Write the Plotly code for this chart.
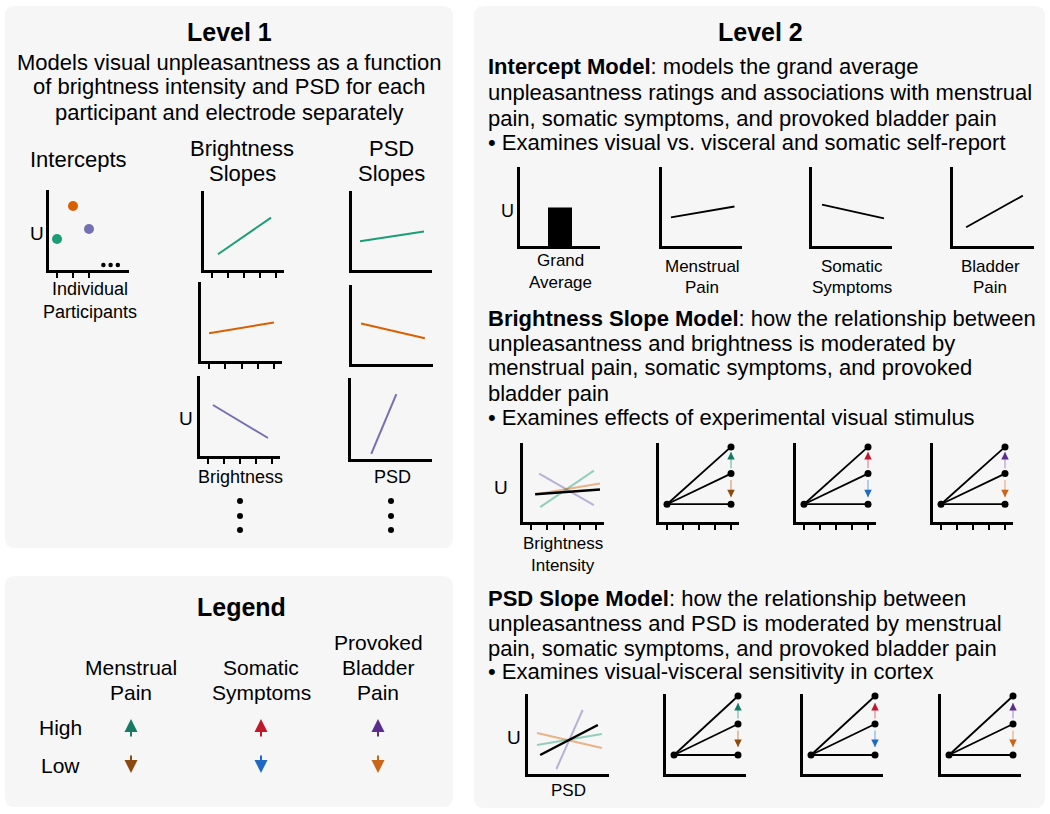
import plotly.graph_objects as go

W, H = 1050, 814
FONT = "Liberation Sans"

# ---------------- data ----------------
# Level 1: intercepts (one per participant)
participants = [1, 2, 3]
intercept_u = [3.1, 6.4, 4.1]
participant_colors = ["#1b9e77", "#d95f02", "#7570b3"]
ellipsis_x = [3.9, 4.35, 4.8]
ellipsis_u = [0.5, 0.5, 0.5]

# Level 1: brightness slopes and PSD slopes (per participant)
bright_x = [[1.375, 4.69], [1.0, 5.0], [1.31, 4.75]]
bright_u = [[1.6, 5.3], [2.8, 3.9], [5.1, 1.8]]
psd_x = [[1.0, 5.0], [1.06, 5.0], [1.75, 3.3]]
psd_u = [[2.9, 3.9], [4.1, 2.6], [0.5, 6.4]]

# Level 2: intercept model
grand_x = [3.0]
grand_u = [3.9]
assoc_labels = ["Menstrual<br>Pain", "Somatic<br>Symptoms", "Bladder<br>Pain"]
assoc_x = [[1.06, 5.03], [1.125, 5.0], [1.31, 4.81]]
assoc_u = [[2.9, 4.0], [4.2, 2.8], [1.9, 5.1]]

# Level 2: brightness slope model, participant lines + group line
bs_lines_x = [[1.5, 4.875], [1.56, 4.875], [1.31, 5.25]]
bs_lines_u = [[4.9, 1.7], [1.5, 5.2], [2.8, 3.9]]
bs_group_x = [1.25, 5.25]
bs_group_u = [2.8, 3.3]
# Level 2: PSD slope model
ps_lines_x = [[2.25, 3.875], [1.06, 5.06], [1.06, 5.06]]
ps_lines_u = [[0.5, 6.4], [4.1, 2.6], [2.9, 4.0]]
ps_group_x = [1.25, 4.81]
ps_group_u = [1.9, 4.9]
light_colors = ["rgba(117,112,179,0.5)", "rgba(27,158,119,0.45)", "rgba(217,95,2,0.45)"]
light_order_ps = ["rgba(117,112,179,0.5)", "rgba(217,95,2,0.45)", "rgba(27,158,119,0.45)"]

# Moderation fans: start x, end x, origin U, end U (high, average, low)
fan_x = [1, 5]
bs_fan_origin = 1.8
bs_fan_ends = [7.6, 4.9, 1.8]
ps_fan_origin = 1.9
ps_fan_ends = [7.8, 5.0, 1.9]
bs_arrow_high = [5.3, 7.1]
bs_arrow_low = [4.4, 2.5]
ps_arrow_high = [5.4, 7.1]
ps_arrow_low = [4.5, 2.7]

moderators = ["Menstrual<br>Pain", "Somatic<br>Symptoms", "Provoked<br>Bladder<br>Pain"]
high_colors = ["#167a64", "#c0182a", "#5b2d8e"]
low_colors = ["#8c4a0f", "#1f68c4", "#c8651b"]
high_light = ["#7cc2b2", "#e8909a", "#b7a2d8"]
low_light = ["#d4a77c", "#8fb6e6", "#ebb283"]

# ---------------- figure ----------------
fig = go.Figure()
layout = {}
annotations = []
shapes = []
n_axes = [0]


def add_chart(x0, x1, y0, y1, ticks=None):
    n_axes[0] += 1
    n = n_axes[0]
    sfx = "" if n == 1 else str(n)
    common = dict(showline=True, linecolor="black", linewidth=2.5, showgrid=False,
                  zeroline=False, showticklabels=False, fixedrange=True)
    xa = dict(domain=[x0 / W, x1 / W], range=[0.5, 5.5], anchor="y" + sfx, **common)
    if ticks:
        xa.update(ticks="outside", tickvals=ticks, ticklen=5, tickwidth=2, tickcolor="black")
    else:
        xa.update(ticks="")
    ya = dict(domain=[1 - y1 / H, 1 - y0 / H], range=[0, 8], anchor="x" + sfx, ticks="", **common)
    layout["xaxis" + sfx] = xa
    layout["yaxis" + sfx] = ya
    return "x" + sfx, "y" + sfx


def line(xa, ya, xs, ys, color, width=2):
    fig.add_trace(go.Scatter(x=xs, y=ys, mode="lines", line=dict(color=color, width=width),
                             xaxis=xa, yaxis=ya, showlegend=False, hoverinfo="skip",
                             cliponaxis=False))


def txt(x, y, s, size=22, anchor="center"):
    annotations.append(dict(x=x / W, y=1 - y / H, xref="paper", yref="paper", text=s,
                            showarrow=False, xanchor=anchor, yanchor="middle",
                            font=dict(size=size, family=FONT, color="black")))


def dot(x, y, r=3):
    shapes.append(dict(type="circle", xref="paper", yref="paper",
                       x0=(x - r) / W, x1=(x + r) / W, y0=1 - (y + r) / H, y1=1 - (y - r) / H,
                       fillcolor="black", line=dict(width=0)))


def rrect(x0, y0, x1, y1, r=10):
    X = lambda v: v / W
    Y = lambda v: 1 - v / H
    p = (f"M {X(x0 + r)},{Y(y0)} L {X(x1 - r)},{Y(y0)} Q {X(x1)},{Y(y0)} {X(x1)},{Y(y0 + r)} "
         f"L {X(x1)},{Y(y1 - r)} Q {X(x1)},{Y(y1)} {X(x1 - r)},{Y(y1)} "
         f"L {X(x0 + r)},{Y(y1)} Q {X(x0)},{Y(y1)} {X(x0)},{Y(y1 - r)} "
         f"L {X(x0)},{Y(y0 + r)} Q {X(x0)},{Y(y0)} {X(x0 + r)},{Y(y0)} Z")
    shapes.append(dict(type="path", path=p, xref="paper", yref="paper",
                       fillcolor="#f6f6f6", line=dict(width=0), layer="below"))


# panels
rrect(5, 6, 453, 548)
rrect(5, 576, 453, 807)
rrect(474, 6, 1045, 808)

# ---- Level 1 ----
txt(229, 32, "<b>Level 1</b>", 25)
txt(229, 62, "Models visual unpleasantness as a function", 22)
txt(229, 87, "of brightness intensity and PSD for each", 22)
txt(229, 112, "participant and electrode separately", 22)

txt(78, 160, "Intercepts", 22)
txt(242, 148, "Brightness", 22)
txt(242, 173, "Slopes", 22)
txt(391, 148, "PSD", 22)
txt(391, 173, "Slopes", 22)

xa, ya = add_chart(49, 129, 190, 270, ticks=[1, 2, 3])
fig.add_trace(go.Scatter(x=participants, y=intercept_u, mode="markers",
                         marker=dict(color=participant_colors, size=10), xaxis=xa, yaxis=ya,
                         showlegend=False, hoverinfo="skip", cliponaxis=False))
fig.add_trace(go.Scatter(x=ellipsis_x, y=ellipsis_u, mode="markers",
                         marker=dict(color="black", size=4.5), xaxis=xa, yaxis=ya,
                         showlegend=False, hoverinfo="skip", cliponaxis=False))
txt(37, 233, "U", 19)
txt(90, 289, "Individual", 18)
txt(90, 312, "Participants", 18)

bright_boxes = [(204, 284, 191, 270), (201, 282, 282, 361), (200, 280, 376, 456)]
psd_boxes = [(352, 432, 191, 270), (352, 433, 285, 364), (351, 432, 378, 459)]
for i in range(3):
    xa, ya = add_chart(*bright_boxes[i], ticks=[1, 2, 3, 4, 5])
    line(xa, ya, bright_x[i], bright_u[i], participant_colors[i], 2)
for i in range(3):
    xa, ya = add_chart(*psd_boxes[i])
    line(xa, ya, psd_x[i], psd_u[i], participant_colors[i], 2)
txt(186, 418, "U", 19)
txt(240, 477, "Brightness", 18)
txt(392, 477, "PSD", 18)
for yy in (501, 516, 530):
    dot(240, yy)
    dot(391, yy)

# ---- Legend ----
txt(241, 607, "<b>Legend</b>", 25)
leg_x = [131, 261, 378]
for i, lab in enumerate(moderators):
    parts = lab.split("<br>")
    base = 692 - 25 * (len(parts) - 1)
    for k, p in enumerate(parts):
        txt(leg_x[i], base + 25 * k, p, 21)
    annotations.append(dict(x=leg_x[i] / W, y=1 - 719 / H, xref="paper", yref="paper",
                            ax=0, ay=19, text="", showarrow=True, arrowhead=2, arrowsize=1.3,
                            arrowwidth=2, arrowcolor=high_colors[i]))
    annotations.append(dict(x=leg_x[i] / W, y=1 - 773 / H, xref="paper", yref="paper",
                            ax=0, ay=-19, text="", showarrow=True, arrowhead=2, arrowsize=1.3,
                            arrowwidth=2, arrowcolor=low_colors[i]))
txt(60, 727, "High", 21)
txt(60, 765, "Low", 21)

# ---- Level 2 ----
txt(760, 32, "<b>Level 2</b>", 25)
L = 486
FS = 22
txt(L, 67, "<b>Intercept Model</b>: models the grand average", FS, "left")
txt(L, 93, "unpleasantness ratings and associations with menstrual", FS, "left")
txt(L, 118, "pain, somatic symptoms, and provoked bladder pain", FS, "left")
txt(L, 142, "• Examines visual vs. visceral and somatic self-report", FS, "left")

xa, ya = add_chart(520, 600, 167, 246)
fig.add_trace(go.Bar(x=grand_x, y=grand_u, width=[1.5], marker=dict(color="black", line=dict(width=0)),
                     xaxis=xa, yaxis=ya, showlegend=False, hoverinfo="skip"))
txt(507, 211, "U", 18)
txt(560, 260, "Grand", 17)
txt(560, 283, "Average", 17)
assoc_boxes = [(662, 742), (812, 892), (953, 1034)]
assoc_cx = [702, 852, 990]
for i in range(3):
    xa, ya = add_chart(assoc_boxes[i][0], assoc_boxes[i][1], 167, 246)
    line(xa, ya, assoc_x[i], assoc_u[i], "black", 1.8)
    a, b = assoc_labels[i].split("<br>")
    txt(assoc_cx[i], 266, a, 17)
    txt(assoc_cx[i], 287, b, 17)

txt(L, 318, "<b>Brightness Slope Model</b>: how the relationship between", FS, "left")
txt(L, 343, "unpleasantness and brightness is moderated by", FS, "left")
txt(L, 368, "menstrual pain, somatic symptoms, and provoked", FS, "left")
txt(L, 393, "bladder pain", FS, "left")
txt(L, 417, "• Examines effects of experimental visual stimulus", FS, "left")

txt(L, 598, "<b>PSD Slope Model</b>: how the relationship between", FS, "left")
txt(L, 623, "unpleasantness and PSD is moderated by menstrual", FS, "left")
txt(L, 648, "pain, somatic symptoms, and provoked bladder pain", FS, "left")
txt(L, 671, "• Examines visual-visceral sensitivity in cortex", FS, "left")


def fan_row(boxes, y0, y1, ticks, origin, ends, ah, al):
    for i, (x0, x1) in enumerate(boxes):
        xa, ya = add_chart(x0, x1, y0, y1, ticks=ticks)
        for e in ends:
            line(xa, ya, fan_x, [origin, e], "black", 1.8)
        fig.add_trace(go.Scatter(x=[fan_x[0]] + [fan_x[1]] * 3, y=[origin] + ends, mode="markers",
                                 marker=dict(color="black", size=7), xaxis=xa, yaxis=ya,
                                 showlegend=False, hoverinfo="skip", cliponaxis=False))
        for (t, hd), col, lcol in ((ah, high_colors[i], high_light[i]),
                                   (al, low_colors[i], low_light[i])):
            # light shaft
            annotations.append(dict(x=fan_x[1], y=hd, ax=fan_x[1], ay=t, xref=xa, yref=ya,
                                    axref=xa, ayref=ya, text="", showarrow=True, arrowhead=0,
                                    arrowwidth=1.3, arrowcolor=lcol))
            # dark head
            step = 0.6 if hd > t else -0.6
            annotations.append(dict(x=fan_x[1], y=hd, ax=fan_x[1], ay=hd - step, xref=xa, yref=ya,
                                    axref=xa, ayref=ya, text="", showarrow=True, arrowhead=2,
                                    arrowsize=1.5, arrowwidth=1, arrowcolor=col))


# brightness row
xa, ya = add_chart(523, 604, 443, 522, ticks=[1, 2, 3, 4, 5])
for i in range(3):
    line(xa, ya, bs_lines_x[i], bs_lines_u[i], light_colors[i], 2)
line(xa, ya, bs_group_x, bs_group_u, "black", 2.5)
txt(501, 487, "U", 19)
txt(563, 543, "Brightness", 17)
txt(563, 565, "Intensity", 17)
fan_row([(659, 739), (796, 876), (933, 1013)], 443, 522, [1, 2, 3, 4, 5],
        bs_fan_origin, bs_fan_ends, bs_arrow_high, bs_arrow_low)

# PSD row
xa, ya = add_chart(528, 609, 694, 774)
for i in range(3):
    line(xa, ya, ps_lines_x[i], ps_lines_u[i], light_order_ps[i], 2)
line(xa, ya, ps_group_x, ps_group_u, "black", 2.5)
txt(514, 737, "U", 19)
txt(568, 790, "PSD", 17)
fan_row([(666, 746), (803, 883), (941, 1021)], 694, 774, None,
        ps_fan_origin, ps_fan_ends, ps_arrow_high, ps_arrow_low)

fig.update_layout(width=W, height=H, margin=dict(l=0, r=0, t=0, b=0),
                  paper_bgcolor="white", plot_bgcolor="rgba(0,0,0,0)",
                  annotations=annotations, shapes=shapes, showlegend=False,
                  font=dict(family=FONT), **layout)

fig.write_html("out.html", config={"displayModeBar": False},
               post_script="document.body.style.margin='0';document.body.style.overflow='hidden';")
